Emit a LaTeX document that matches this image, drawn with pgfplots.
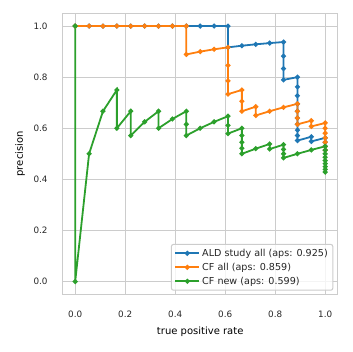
\documentclass[border=0pt]{standalone}
\usepackage{fontspec}
\setmainfont{DejaVu Sans}
\usepackage{pgfplots}
\pgfplotsset{compat=1.18}
\definecolor{tabblue}{HTML}{1F77B4}
\definecolor{taborange}{HTML}{FF7F0E}
\definecolor{tabgreen}{HTML}{2CA02C}
\definecolor{gridgray}{HTML}{CCCCCC}
\definecolor{textgray}{HTML}{262626}
\begin{document}
\begin{tikzpicture}
\useasboundingbox (0,0) rectangle (352pt,352pt);
\begin{axis}[
  at={(62.7pt,57.7pt)}, anchor=south west,
  scale only axis, width=275pt, height=281pt,
  xmin=-0.05, xmax=1.05, ymin=-0.05, ymax=1.05,
  xtick={0,0.2,0.4,0.6,0.8,1.0},
  ytick={0,0.2,0.4,0.6,0.8,1.0},
  grid=major,
  major grid style={gridgray, line width=1.1pt},
  axis line style={gridgray, line width=1.2pt},
  major tick length=0pt,
  tick label style={font=\fontsize{8.8}{10}\selectfont, text=textgray},
  xticklabel style={inner sep=0pt, anchor=north, yshift=-16pt},
  yticklabel style={inner sep=0pt, anchor=east, xshift=-15pt},
  /pgf/number format/.cd, fixed, fixed zerofill, precision=1, assume math mode=true, /pgfplots/.cd,
  xlabel={true positive rate},
  ylabel={precision},
  label style={font=\fontsize{9.6}{11}\selectfont, text=textgray},
  every axis x label/.style={at={(axis description cs:0.5,-0.134)}, anchor=center},
  every axis y label/.style={at={(axis description cs:-0.155,0.5)}, rotate=90, anchor=center},
  legend style={at={(axis description cs:0.984,0.0128)}, anchor=south east,
    draw=gridgray, line width=1pt, rounded corners=2pt, fill=white, fill opacity=0.8, text opacity=1,
    font=\fontsize{9.6}{11}\selectfont, text=textgray, cells={anchor=west},
    inner xsep=3pt, inner ysep=2.5pt, row sep=1.2pt},
  legend image code/.code={\draw[mark repeat=2,mark phase=2] plot coordinates {(0pt,0pt) (12pt,0pt) (24pt,0pt)};},
  every axis plot/.append style={line width=1.8pt, mark=*, mark size=1.5pt},
]
\addplot[tabblue] coordinates {
(0,1) (0.05556,1) (0.11111,1) (0.16667,1) (0.22222,1) (0.27778,1) (0.33333,1) (0.38889,1) (0.44444,1) (0.5,1) (0.55556,1) (0.61111,1)
(0.61111,0.91667) (0.66667,0.92308) (0.72222,0.92857) (0.77778,0.93333) (0.83333,0.9375)
(0.83333,0.88235) (0.83333,0.83333) (0.83333,0.78947) (0.88889,0.8)
(0.88889,0.7619) (0.88889,0.72727) (0.88889,0.69565) (0.88889,0.66667) (0.88889,0.64) (0.88889,0.61538) (0.88889,0.59259) (0.88889,0.57143) (0.88889,0.55172)
(0.94444,0.56667) (0.94444,0.54839) (1,0.5625) (1,0.54545) (1,0.52941) (1,0.51429)
};
\addlegendentry{ALD study all (aps: 0.925)}
\addplot[taborange] coordinates {
(0,1) (0.05556,1) (0.11111,1) (0.16667,1) (0.22222,1) (0.27778,1) (0.33333,1) (0.38889,1) (0.44444,1)
(0.44444,0.88889) (0.5,0.9) (0.55556,0.90909) (0.61111,0.91667)
(0.61111,0.84615) (0.61111,0.78571) (0.61111,0.73333) (0.66667,0.75)
(0.66667,0.70588) (0.66667,0.66667) (0.72222,0.68421) (0.72222,0.65)
(0.77778,0.66667) (0.83333,0.68182) (0.88889,0.69565)
(0.88889,0.66667) (0.88889,0.64) (0.88889,0.61538) (0.94444,0.62963) (0.94444,0.60714)
(1,0.62069) (1,0.6) (1,0.58065) (1,0.5625) (1,0.54545) (1,0.52941) (1,0.51429)
};
\addlegendentry{CF all (aps: 0.859)}
\addplot[tabgreen] coordinates {
(0,1) (0,0) (0.05556,0.5) (0.11111,0.66667) (0.16667,0.75) (0.16667,0.6)
(0.22222,0.66667) (0.22222,0.57143) (0.27778,0.625) (0.33333,0.66667) (0.33333,0.6)
(0.38889,0.63636) (0.44444,0.66667) (0.44444,0.61538) (0.44444,0.57143)
(0.5,0.6) (0.55556,0.625) (0.61111,0.64706) (0.61111,0.61111) (0.61111,0.57895)
(0.66667,0.6) (0.66667,0.57143) (0.66667,0.54545) (0.66667,0.52174) (0.66667,0.5)
(0.72222,0.52) (0.77778,0.53846) (0.77778,0.51852) (0.83333,0.53571) (0.83333,0.51724) (0.83333,0.5) (0.83333,0.48387)
(0.88889,0.5) (0.94444,0.51515) (1,0.52941) (1,0.51429) (1,0.5) (1,0.48649) (1,0.47368) (1,0.46154) (1,0.45) (1,0.43902) (1,0.42857)
};
\addlegendentry{CF new (aps: 0.599)}
\end{axis}
\end{tikzpicture}
\end{document}
